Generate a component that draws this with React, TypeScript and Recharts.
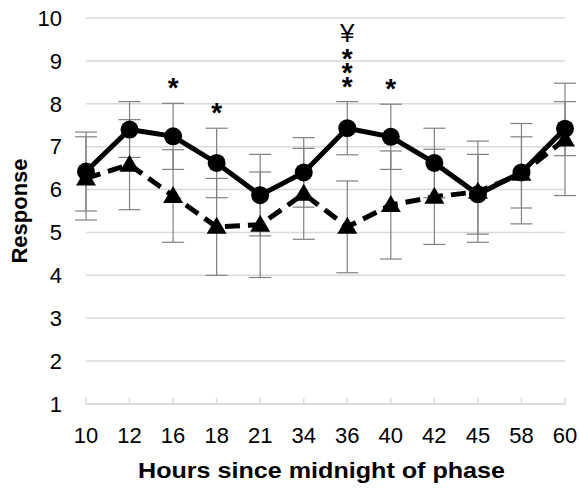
import { LineChart, Line, XAxis, YAxis, CartesianGrid, ErrorBar, LabelList } from "recharts";

// values
const hours = ["10", "12", "16", "18", "21", "34", "36", "40", "42", "45", "58", "60"];
const circleVals = [6.42, 7.4, 7.24, 6.62, 5.87, 6.4, 7.43, 7.23, 6.62, 5.89, 6.4, 7.42];
const circleErr = [0.92, 0.65, 0.77, 0.81, 0.95, 0.81, 0.62, 0.76, 0.81, 0.93, 0.83, 0.63];
const triVals = [6.26, 6.58, 5.85, 5.13, 5.18, 5.9, 5.13, 5.64, 5.83, 5.95, 6.37, 7.17];
const triErr = [0.97, 1.05, 1.08, 1.13, 1.23, 1.06, 1.07, 1.26, 1.11, 1.18, 1.17, 1.31];
// significance marks, listed bottom to top
const marks = ["", "", "*", "*", "", "", "***¥", "*", "", "", "", ""];
const yTicks = [1, 2, 3, 4, 5, 6, 7, 8, 9, 10];

const data = hours.map((h, i) => ({
  hour: h,
  a: circleVals[i],
  aErr: circleErr[i],
  b: triVals[i],
  bErr: triErr[i],
  top: circleVals[i] + circleErr[i],
  note: marks[i],
}));

const FONT = "'Liberation Sans', Arial, sans-serif";
const GRID = "#d9d9d9";

function CircleDot(props: any) {
  const { cx, cy } = props;
  if (cx == null || cy == null) return null;
  return <circle cx={cx} cy={cy} r={9} fill="#000" />;
}

function TriDot(props: any) {
  const { cx, cy } = props;
  if (cx == null || cy == null) return null;
  return <path d={`M${cx},${cy - 10} L${cx + 10},${cy + 7} L${cx - 10},${cy + 7} Z`} fill="#000" />;
}

function XTick(props: any) {
  const { x, y, payload } = props;
  return (
    <g>
      <line x1={x} x2={x} y1={y - 6} y2={y} stroke={GRID} strokeWidth={1.5} />
      <text x={x} y={y + 39} textAnchor="middle" fontSize={22} fontFamily={FONT} fill="#000">
        {payload.value}
      </text>
    </g>
  );
}

// stacked marks drawn as one text so the lines can sit tight like the original
function Marks(props: any) {
  const { x, y, value } = props;
  if (!value || x == null || y == null) return null;
  const chars = String(value).split("");
  let c = y - 22;
  const rows = chars.map((ch, i) => {
    if (i > 0) c -= ch === "¥" ? 20 : 14;
    return { ch, c };
  });
  return (
    <text textAnchor="middle" fontFamily={FONT} fill="#000">
      {rows.map((r, i) =>
        r.ch === "¥" ? (
          <tspan key={i} x={x} y={r.c + 10} fontSize={26}>
            {r.ch}
          </tspan>
        ) : (
          <tspan key={i} x={x} y={r.c + 16} fontSize={28} fontWeight="bold">
            {r.ch}
          </tspan>
        )
      )}
    </text>
  );
}

export default function App() {
  return (
    <div style={{ position: "absolute", left: 0, top: 0, background: "#fff" }}>
      <LineChart width={579} height={491} data={data} margin={{ top: 18, right: 14, bottom: 0, left: 0 }}>
        <CartesianGrid vertical={false} stroke={GRID} strokeWidth={1.5} />
        <XAxis
          dataKey="hour"
          scale="point"
          padding={{ left: 0, right: 0 }}
          height={87}
          axisLine={{ stroke: GRID, strokeWidth: 1.5 }}
          tickLine={false}
          tickSize={0}
          tickMargin={0}
          interval={0}
          tick={<XTick />}
          label={{
            content: (p: any) => {
              const vb = p.viewBox;
              return (
                <text
                  x={vb.x + vb.width / 2 - 4}
                  y={478}
                  textAnchor="middle"
                  fontSize={22}
                  fontWeight="bold"
                  fontFamily={FONT}
                  fill="#000"
                  textLength={367}
                  lengthAdjust="spacingAndGlyphs"
                >
                  Hours since midnight of phase
                </text>
              );
            },
          }}
        />
        <YAxis
          type="number"
          domain={[1, 10]}
          ticks={yTicks}
          width={86}
          axisLine={false}
          tickLine={false}
          tickSize={0}
          tickMargin={24}
          tick={{ fontSize: 22, fontFamily: FONT, fill: "#000" }}
          label={{
            content: (p: any) => {
              const vb = p.viewBox;
              const cy = vb.y + vb.height / 2;
              return (
                <text
                  x={27}
                  y={cy}
                  transform={`rotate(-90, 27, ${cy})`}
                  textAnchor="middle"
                  fontSize={22}
                  fontWeight="bold"
                  fontFamily={FONT}
                  fill="#000"
                >
                  Response
                </text>
              );
            },
          }}
        />
        <Line
          dataKey="b"
          type="linear"
          stroke="#000"
          strokeWidth={5}
          strokeDasharray="15 8"
          dot={<TriDot />}
          activeDot={false}
          isAnimationActive={false}
        >
          <ErrorBar dataKey="bErr" width={11} stroke="#808080" strokeWidth={1.2} direction="y" />
        </Line>
        <Line
          dataKey="a"
          type="linear"
          stroke="#000"
          strokeWidth={5}
          dot={<CircleDot />}
          activeDot={false}
          isAnimationActive={false}
        >
          <ErrorBar dataKey="aErr" width={11} stroke="#808080" strokeWidth={1.2} direction="y" />
        </Line>
        <Line dataKey="top" stroke="none" dot={false} activeDot={false} isAnimationActive={false}>
          <LabelList dataKey="note" content={<Marks />} />
        </Line>
      </LineChart>
    </div>
  );
}
